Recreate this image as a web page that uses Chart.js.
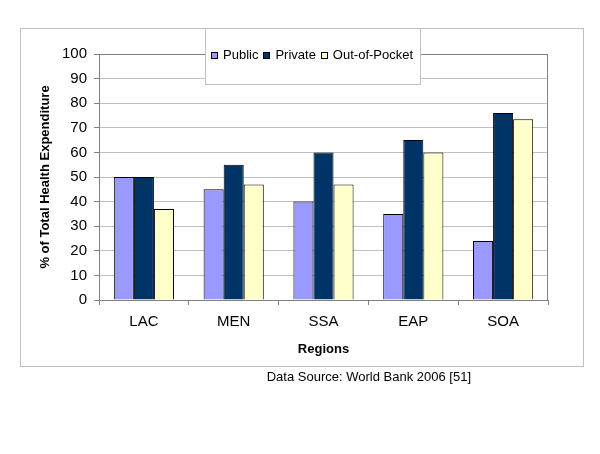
<!DOCTYPE html>
<html>
<head>
<meta charset="utf-8">
<script src="https://cdn.jsdelivr.net/npm/chart.js@4.4.0/dist/chart.umd.min.js"></script>
<style>
html,body{margin:0;padding:0;background:#fff;}
#wrap{width:600px;height:454px;position:relative;}
</style>
</head>
<body>
<div id="wrap"><canvas id="c" width="600" height="454"></canvas></div>
<script>
// ---- data ----
const categories = ['LAC', 'MEN', 'SSA', 'EAP', 'SOA'];
const publicValues = [50, 45, 40, 35, 24];
const privateValues = [50, 55, 60, 65, 76];
const outOfPocketValues = [37, 47, 47, 60, 73.5];
const yTickValues = [0, 10, 20, 30, 40, 50, 60, 70, 80, 90, 100];
const seriesNames = ['Public', 'Private', 'Out-of-Pocket'];
const seriesColors = ['#9999FF', '#003366', '#FFFFCC'];
const yAxisTitle = '% of Total Health Expenditure';
const xAxisTitle = 'Regions';
const sourceNote = 'Data Source: World Bank 2006 [51]';

const FONT = '"Liberation Sans", Arial, Helvetica, sans-serif';

const framePlugin = {
  id: 'frame',
  beforeDraw(chart) {
    const ctx = chart.ctx;
    ctx.save();
    ctx.fillStyle = '#ffffff';
    ctx.fillRect(0, 0, chart.width, chart.height);
    ctx.strokeStyle = '#c0c0c0';
    ctx.lineWidth = 1;
    ctx.strokeRect(20.5, 28.5, 563, 338);
    ctx.restore();
  },
  beforeDatasetsDraw(chart) {
    const a = chart.chartArea;
    const ctx = chart.ctx;
    ctx.save();
    ctx.strokeStyle = '#808080';
    ctx.lineWidth = 1;
    ctx.strokeRect(Math.round(a.left) + 0.5, Math.round(a.top) + 0.5,
                   Math.round(a.right - a.left) - 1, Math.round(a.bottom - a.top));
    ctx.restore();
  },
  afterDraw(chart) {
    const ctx = chart.ctx;
    ctx.save();
    // legend box
    const bx = 205, by = 28, bw = 216, bh = 57;
    ctx.fillStyle = '#ffffff';
    ctx.fillRect(bx, by, bw, bh);
    ctx.strokeStyle = '#c0c0c0';
    ctx.lineWidth = 1;
    ctx.strokeRect(bx + 0.5, by + 0.5, bw - 1, bh - 1);
    ctx.font = '13px ' + FONT;
    const sw = 7, gapSym = 5, gapItem = 5;
    const items = chart.data.datasets.map(ds => ({
      label: ds.label, color: ds.backgroundColor, w: ctx.measureText(ds.label).width
    }));
    const total = items.reduce((s, it) => s + sw + gapSym + it.w, 0) + gapItem * (items.length - 1);
    let x = Math.round(bx + (bw - total) / 2) - 1;
    const cy = 55.5;
    ctx.textBaseline = 'middle';
    ctx.textAlign = 'left';
    items.forEach(it => {
      const xi = Math.round(x);
      ctx.fillStyle = it.color;
      ctx.fillRect(xi, 52, sw, sw);
      ctx.strokeStyle = '#000';
      ctx.strokeRect(xi + 0.5, 52.5, sw - 1, sw - 1);
      ctx.fillStyle = '#000';
      ctx.fillText(it.label, x + sw + gapSym, cy);
      x += sw + gapSym + it.w + gapItem;
    });
    // source note
    ctx.font = '13px ' + FONT;
    ctx.textAlign = 'right';
    ctx.textBaseline = 'alphabetic';
    ctx.fillStyle = '#000';
    ctx.fillText(sourceNote, 471, 381);
    ctx.restore();
  }
};

const datasets = [publicValues, privateValues, outOfPocketValues].map((vals, i) => ({
  label: seriesNames[i],
  data: vals,
  backgroundColor: seriesColors[i],
  borderColor: '#000000',
  borderWidth: 1,
  categoryPercentage: 0.67,
  barPercentage: 1.0
}));

new Chart(document.getElementById('c'), {
  type: 'bar',
  data: { labels: categories, datasets: datasets },
  plugins: [framePlugin],
  options: {
    responsive: false,
    animation: false,
    devicePixelRatio: 1,
    layout: { padding: { left: 20, right: 52, top: 54, bottom: 88 } },
    plugins: {
      legend: { display: false },
      tooltip: { enabled: false },
      title: { display: false }
    },
    scales: {
      x: {
        afterFit: s => { s.height = 66; },
        grid: {
          offset: true,
          drawOnChartArea: false,
          drawTicks: true,
          tickLength: 5,
          color: '#808080'
        },
        border: { display: true, color: '#808080' },
        ticks: { color: '#000', font: { family: FONT, size: 15 }, padding: 8 },
        title: {
          display: true, text: xAxisTitle, color: '#000',
          font: { family: FONT, size: 13, weight: 'bold' },
          padding: { top: 0, bottom: 9 }
        }
      },
      y: {
        min: yTickValues[0],
        max: yTickValues[yTickValues.length - 1],
        afterFit: s => { s.width = 79; },
        afterBuildTicks: s => { s.ticks = yTickValues.map(v => ({ value: v })); },
        grid: {
          color: '#c0c0c0',
          tickColor: '#808080',
          drawTicks: true,
          tickLength: 5
        },
        border: { display: true, color: '#808080' },
        ticks: { color: '#000', font: { family: FONT, size: 15 }, padding: 7 },
        title: {
          display: true, text: yAxisTitle, color: '#000',
          font: { family: FONT, size: 13, weight: 'bold' },
          padding: { top: 18, bottom: 0 }
        }
      }
    }
  }
});
</script>
</body>
</html>
